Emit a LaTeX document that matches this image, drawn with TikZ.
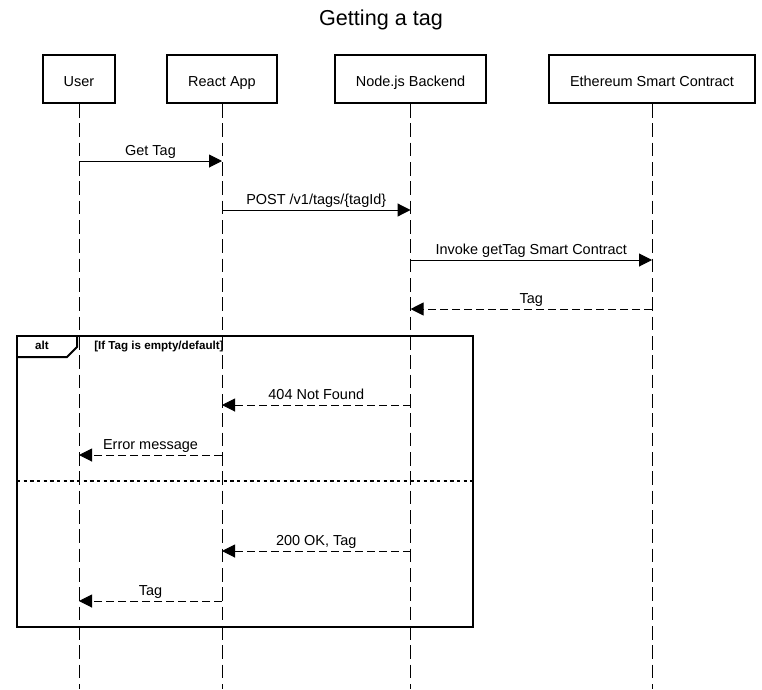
\documentclass[tikz,border=0pt]{standalone}
\usepackage{fontspec}
\setmainfont{Liberation Sans}
\usetikzlibrary{arrows.meta,positioning}

\begin{document}
\begin{tikzpicture}[x=0.75pt,y=0.75pt,
		actor/.style={draw,line width=1.5pt,minimum height=36pt,inner sep=0pt,text height=13.8pt,text depth=2.2pt,font=\fontsize{10.85}{13}\selectfont},
		lifeline/.style={line width=0.75pt,dash pattern=on 10.3pt off 4.2pt},
		call/.style={line width=0.75pt,-{Triangle[length=9.75pt,width=9.75pt]}},
		answer/.style={call,dash pattern=on 6pt off 3pt},
		msg/.style={midway,anchor=base,yshift=4.5pt,inner sep=0pt,font=\fontsize{10.85}{13}\selectfont},
		tag/.style={font=\fontsize{8.7}{10}\selectfont\bfseries,inner sep=0pt,anchor=base}]
				\useasboundingbox (0,0) rectangle (762,-689);
				\node [font=\fontsize{16.2}{19}\selectfont,anchor=base] (title) at (381,-25) {Getting a tag};
				\node [actor,minimum width=54pt] (user) at (79,-79) {User};
				\node [actor,minimum width=82.5pt,right of=user,node distance=107.25pt] (react) {React App};
				\node [actor,minimum width=113.25pt,right of=react,node distance=141.4pt] (backend) {Node.js Backend};
				\node [actor,minimum width=154.5pt,right of=backend,node distance=181.1pt] (contract) {Ethereum Smart Contract};
				\coordinate (bottom) at (0,-689);
				\foreach \p in {user,react,backend,contract}
					\draw [lifeline] (\p) -- (\p |- bottom);
				% alt frame
				\draw [line width=1.5pt] (17,-336) rectangle (473,-627);
				\draw [line width=1.5pt] (17,-357) -- (67,-357) -- (77,-347) -- (77,-336);
				\node [tag] (alt) at (42,-349) {alt};
				\node [tag,anchor=base west] (guard) at (94,-349) {[If Tag is empty/default]};
				\draw [line width=1.5pt,dash pattern=on 2.5pt off 2.5pt] (17,-481) -- (473,-481);
				% messages
				\foreach \a/\b/\y/\s/\txt [count=\i] in {user/react/161/call/{Get Tag},
						react/backend/210/call/{POST /v1/tags/\{tagId\}},
						backend/contract/260/call/{Invoke getTag Smart Contract},
						contract/backend/309/answer/{Tag},
						backend/react/405/answer/{404 Not Found},
						react/user/455/answer/{Error message},
						backend/react/551/answer/{200 OK, Tag},
						react/user/601/answer/{Tag}}
					\draw [\s] (\a |- 0,-\y) -- node [msg] (msg\i) {\txt} (\b |- 0,-\y);
			\end{tikzpicture}
\end{document}
